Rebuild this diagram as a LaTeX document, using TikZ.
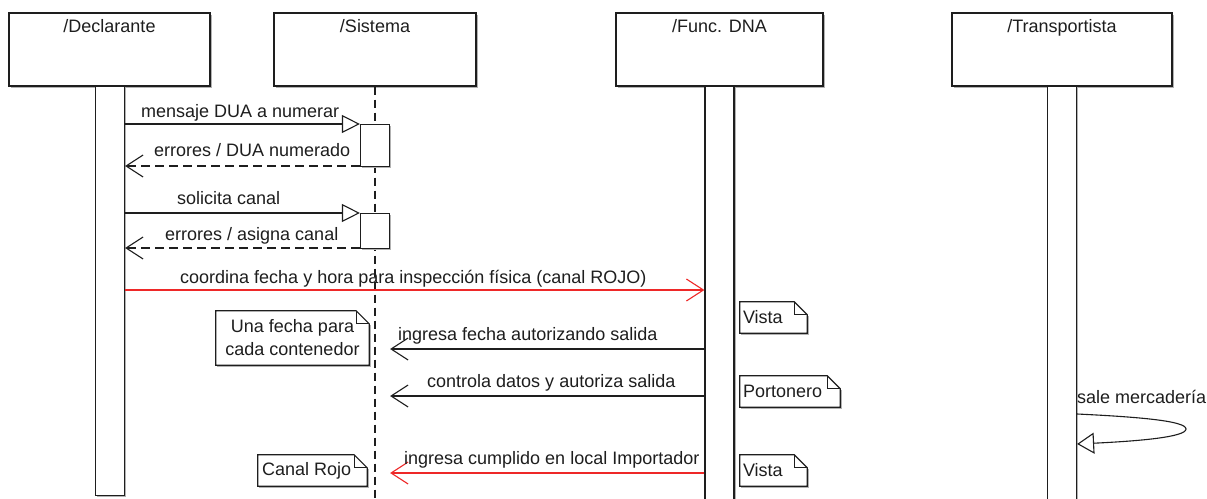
\documentclass[tikz,border=0pt]{standalone}
\usepackage{fontspec}
\setmainfont{Liberation Sans}
\usetikzlibrary{arrows.meta,shadows}
\definecolor{msgred}{RGB}{238,40,40}
\definecolor{ink}{RGB}{30,30,30}
\newcommand\umlnote[1]{%
  \draw[notefr, black!30, transform canvas={shift={(1.5pt,-1.5pt)}}] (#1.south west) -- (#1.south east) -- ([yshift=-13pt]#1.north east);
  \draw[notefr, fill=white] (#1.south west) -- (#1.north west) -- ([xshift=-13pt]#1.north east) -- ([yshift=-13pt]#1.north east) -- (#1.south east) -- cycle;
  \draw[notefr] ([xshift=-13pt]#1.north east) |- ([yshift=-13pt]#1.north east);}
\begin{document}
\begin{tikzpicture}[x=1pt,y=-1pt,
  txt/.style={font=\fontsize{18}{23}\selectfont, inner sep=0pt, text=ink},
  shad/.style={drop shadow={shadow xshift=1.5pt, shadow yshift=-1.5pt, fill=black!30, opacity=1}},
  headbox/.style={draw=ink, line width=1.3pt, fill=white, minimum height=73pt, inner sep=0pt, shad},
  actbar/.style={draw=ink, line width=1.2pt, fill=white, minimum width=29pt, inner sep=0pt, shad},
  msg/.style={draw=ink, line width=1.1pt},
  sync/.style={msg, -{Triangle[length=18pt,width=18pt,fill=white,line width=1.1pt]}},
  reply/.style={msg, dash pattern=on 9pt off 5pt, -{Straight Barb[length=17pt,width=22pt,line width=1.1pt]}},
  async/.style={msg, -{Straight Barb[length=17pt,width=22pt,line width=1.1pt]}},
  redmsg/.style={async, draw=msgred},
  lifeline/.style={draw=ink, line width=1.6pt, dash pattern=on 8pt off 5pt},
  notebox/.style={inner sep=0pt, minimum height=31pt},
  notefr/.style={draw=ink, line width=1.2pt, line join=miter}
]
\useasboundingbox (0,0) rectangle (1207,498);
\clip (0,0) rectangle (1207,498);
\fill[white] (0,0) rectangle (1207,498);

% participants
\node[headbox, minimum width=201pt] (decl) at (109.5,49.5) {};
\node[headbox, minimum width=202pt] (sys) at (375,49.5) {};
\node[headbox, minimum width=207pt] (func) at (719.5,49.5) {};
\node[headbox, minimum width=220pt] (trans) at (1062,49.5) {};
\node[txt, anchor=north] (declL) at ([yshift=-7pt]decl.north) {/Declarante};
\node[txt, anchor=north] (sysL) at ([yshift=-7pt]sys.north) {/Sistema};
\node[txt, anchor=north] (funcL) at ([yshift=-7pt]func.north) {/Func. DNA};
\node[txt, anchor=north] (transL) at ([yshift=-7pt]trans.north) {/Transportista};

% lifeline of Sistema
\coordinate (sysEnd) at (375,500);
\draw[lifeline] (sys.south) -- (sysEnd);

% activation bars
\node[actbar, minimum height=409pt, anchor=north] (declA) at (110,86) {};
\node[actbar, minimum height=420pt, anchor=north] (funcA) at (719.5,86) {};
\node[actbar, minimum height=420pt, anchor=north] (transA) at (1062,86) {};
\node[actbar, minimum height=42pt, anchor=north] (sysA1) at (375,124) {};
\node[actbar, minimum height=35pt, anchor=north] (sysA2) at (375,213) {};

% messages
\draw[sync] (declA.east |- 0,124) -- (sysA1.west |- 0,124);
\node[txt, anchor=base west] (m1) at (141,117) {mensaje DUA a numerar};
\draw[reply] (sysA1.west |- 0,166) -- (declA.east |- 0,166);
\node[txt, anchor=base west] (m2) at (154,156) {errores / DUA numerado};
\draw[sync] (declA.east |- 0,213) -- (sysA2.west |- 0,213);
\node[txt, anchor=base west] (m3) at (177,204) {solicita canal};
\draw[reply] (sysA2.west |- 0,248) -- (declA.east |- 0,248);
\node[txt, anchor=base west] (m4) at (165,240) {errores / asigna canal};
\draw[redmsg] (declA.east |- 0,290) -- (funcA.west |- 0,290);
\node[txt, anchor=base west] (m5) at (180,283) {coordina fecha y hora para inspección física (canal ROJO)};
\draw[async] (funcA.west |- 0,349) -- (sysA1.east |- 0,349);
\node[txt, anchor=base west] (m6) at (398,340) {ingresa fecha autorizando salida};
\draw[async] (funcA.west |- 0,396) -- (sysA1.east |- 0,396);
\node[txt, anchor=base west] (m7) at (427,387) {controla datos y autoriza salida};
\draw[redmsg] (funcA.west |- 0,473) -- (sysA1.east |- 0,473);
\node[txt, anchor=base west] (m8) at (404,464) {ingresa cumplido en local Importador};

% self message
\coordinate (selfTurn) at (1186,429);
\draw[msg, -{Triangle[length=17pt,width=21pt,fill=white,line width=1.1pt]}]
  (transA.east |- 0,414) .. controls (1140,417) and (1186,421) .. (selfTurn)
  .. controls (1186,437) and (1140,441) .. (transA.east |- 0,444);
\node[txt, anchor=base west] (m9) at (1077,403) {sale mercadería};

% notes
\node[notebox, minimum width=153pt, minimum height=54pt] (n1) at (292.5,338) {};
\umlnote{n1}
\node[txt, align=center] (n1t) at (n1) {Una fecha para\\cada contenedor};
\node[notebox, minimum width=109pt] (n2) at (312.5,470.5) {};
\umlnote{n2}
\node[txt, anchor=west] (n2t) at ([xshift=4pt]n2.west) {Canal Rojo};
\node[notebox, minimum width=67pt] (n3) at (773.5,317.5) {};
\umlnote{n3}
\node[txt, anchor=west] (n3t) at ([xshift=3pt]n3.west) {Vista};
\node[notebox, minimum width=100pt] (n4) at (790,391.5) {};
\umlnote{n4}
\node[txt, anchor=west] (n4t) at ([xshift=3pt]n4.west) {Portonero};
\node[notebox, minimum width=67pt] (n5) at (773.5,470.5) {};
\umlnote{n5}
\node[txt, anchor=west] (n5t) at ([xshift=3pt]n5.west) {Vista};
\end{tikzpicture}
\end{document}
